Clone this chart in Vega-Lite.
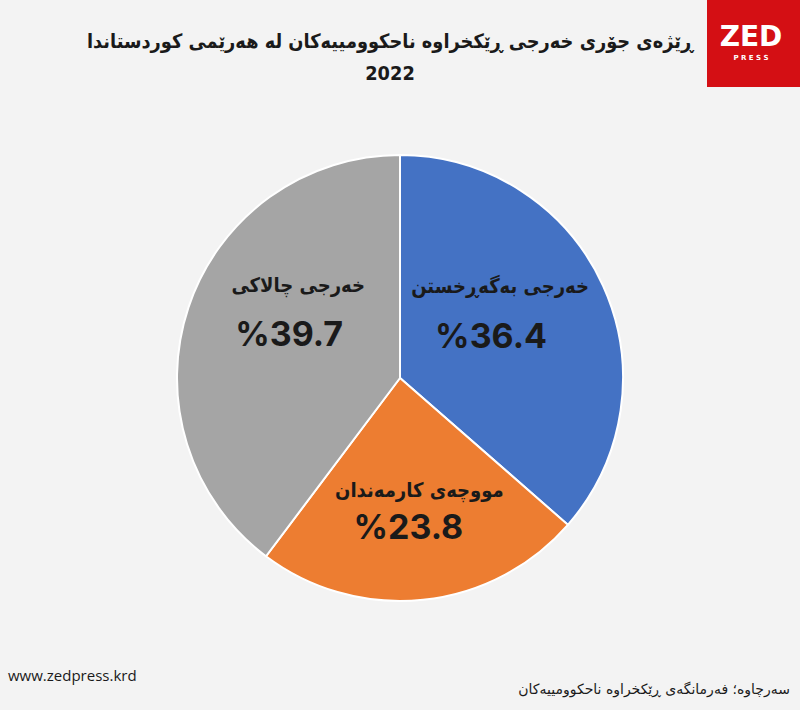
{
  "$schema": "https://vega.github.io/schema/vega-lite/v6.json",
  "autosize": "none",
  "width": 800,
  "height": 664,
  "padding": {"top": 46, "left": 0, "right": 0, "bottom": 0},
  "background": "#f3f3f3",
  "title": {
    "text": ["ڕێژەی جۆری خەرجی ڕێکخراوە ناحکوومییەکان لە هەرێمی کوردستاندا", "2022"],
    "anchor": "middle",
    "dx": -10,
    "dy": 56,
    "offset": -28,
    "font": "DejaVu Sans Condensed, DejaVu Sans",
    "fontSize": 19.8,
    "fontWeight": "bold",
    "lineHeight": 32,
    "color": "#1a1a1a"
  },
  "datasets": {
    "slices": [
      {"name": "خەرجی بەگەڕخستن", "value": 36.4, "label": "%36.4", "rank": 1},
      {"name": "مووچەی کارمەندان", "value": 23.8, "label": "%23.8", "rank": 2},
      {"name": "خەرجی چالاکی", "value": 39.7, "label": "%39.7", "rank": 3}
    ],
    "notes": [
      {"site": "www.zedpress.krd", "source": "سەرچاوە؛ فەرمانگەی ڕێکخراوە ناحکوومییەکان", "brand": "ZED", "sub": "P R E S S"}
    ]
  },
  "layer": [
    {
      "data": {"name": "slices"},
      "mark": {"type": "arc", "outerRadius": 223, "stroke": "#ffffff", "strokeWidth": 2},
      "encoding": {
        "theta": {"field": "value", "type": "quantitative", "stack": true},
        "order": {"field": "rank", "type": "quantitative"},
        "color": {
          "field": "name",
          "type": "nominal",
          "scale": {"domain": ["خەرجی بەگەڕخستن", "مووچەی کارمەندان", "خەرجی چالاکی"], "range": ["#4472C4", "#ED7D31", "#A5A5A5"]},
          "legend": null
        }
      }
    },
    {
      "data": {"name": "slices"},
      "mark": {"type": "text", "radius": 100, "dx": 9, "dy": -50, "font": "DejaVu Sans Condensed, DejaVu Sans", "fontSize": 20, "fontWeight": "bold", "color": "#1a1a1a", "align": "center", "baseline": "middle"},
      "encoding": {
        "theta": {"field": "value", "type": "quantitative", "stack": true},
        "order": {"field": "rank", "type": "quantitative"},
        "text": {"condition": {"test": "datum.rank == 1", "field": "name"}, "value": ""}
      }
    },
    {
      "data": {"name": "slices"},
      "mark": {"type": "text", "radius": 100, "dx": 0, "dy": 1, "font": "Inter", "fontSize": 34, "fontWeight": "bold", "color": "#1a1a1a", "align": "center", "baseline": "middle"},
      "encoding": {
        "theta": {"field": "value", "type": "quantitative", "stack": true},
        "order": {"field": "rank", "type": "quantitative"},
        "text": {"condition": {"test": "datum.rank == 1", "field": "label"}, "value": ""}
      }
    },
    {
      "data": {"name": "slices"},
      "mark": {"type": "text", "radius": 100, "dx": 9, "dy": 14, "font": "DejaVu Sans Condensed, DejaVu Sans", "fontSize": 20, "fontWeight": "bold", "color": "#1a1a1a", "align": "center", "baseline": "middle"},
      "encoding": {
        "theta": {"field": "value", "type": "quantitative", "stack": true},
        "order": {"field": "rank", "type": "quantitative"},
        "text": {"condition": {"test": "datum.rank == 2", "field": "name"}, "value": ""}
      }
    },
    {
      "data": {"name": "slices"},
      "mark": {"type": "text", "radius": 100, "dx": -2, "dy": 52, "font": "Inter", "fontSize": 34, "fontWeight": "bold", "color": "#1a1a1a", "align": "center", "baseline": "middle"},
      "encoding": {
        "theta": {"field": "value", "type": "quantitative", "stack": true},
        "order": {"field": "rank", "type": "quantitative"},
        "text": {"condition": {"test": "datum.rank == 2", "field": "label"}, "value": ""}
      }
    },
    {
      "data": {"name": "slices"},
      "mark": {"type": "text", "radius": 100, "dx": -7, "dy": -60, "font": "DejaVu Sans Condensed, DejaVu Sans", "fontSize": 20, "fontWeight": "bold", "color": "#1a1a1a", "align": "center", "baseline": "middle"},
      "encoding": {
        "theta": {"field": "value", "type": "quantitative", "stack": true},
        "order": {"field": "rank", "type": "quantitative"},
        "text": {"condition": {"test": "datum.rank == 3", "field": "name"}, "value": ""}
      }
    },
    {
      "data": {"name": "slices"},
      "mark": {"type": "text", "radius": 100, "dx": -16, "dy": -10, "font": "Inter", "fontSize": 34, "fontWeight": "bold", "color": "#1a1a1a", "align": "center", "baseline": "middle"},
      "encoding": {
        "theta": {"field": "value", "type": "quantitative", "stack": true},
        "order": {"field": "rank", "type": "quantitative"},
        "text": {"condition": {"test": "datum.rank == 3", "field": "label"}, "value": ""}
      }
    },
    {
      "data": {"name": "notes"},
      "mark": {"type": "rect", "color": "#d40f14"},
      "encoding": {"x": {"value": 707}, "x2": {"value": 800}, "y": {"value": -46}, "y2": {"value": 41}}
    },
    {
      "data": {"name": "notes"},
      "mark": {"type": "text", "font": "DejaVu Sans", "fontSize": 28, "fontWeight": "bold", "color": "#ffffff", "align": "center", "baseline": "middle"},
      "encoding": {"x": {"value": 751}, "y": {"value": -8}, "text": {"field": "brand"}}
    },
    {
      "data": {"name": "notes"},
      "mark": {"type": "text", "font": "DejaVu Sans", "fontSize": 7, "fontWeight": "bold", "color": "#ffffff", "align": "center", "baseline": "middle"},
      "encoding": {"x": {"value": 751}, "y": {"value": 12}, "text": {"field": "sub"}}
    },
    {
      "data": {"name": "notes"},
      "mark": {"type": "text", "font": "Open Sans", "fontSize": 15, "color": "#1a1a1a", "align": "left", "baseline": "middle"},
      "encoding": {"x": {"value": 8}, "y": {"value": 630}, "text": {"field": "site"}}
    },
    {
      "data": {"name": "notes"},
      "mark": {"type": "text", "font": "DejaVu Sans", "fontSize": 14, "color": "#1a1a1a", "align": "right", "baseline": "middle"},
      "encoding": {"x": {"value": 790}, "y": {"value": 644}, "text": {"field": "source"}}
    }
  ],
  "config": {"view": {"stroke": null}}
}
